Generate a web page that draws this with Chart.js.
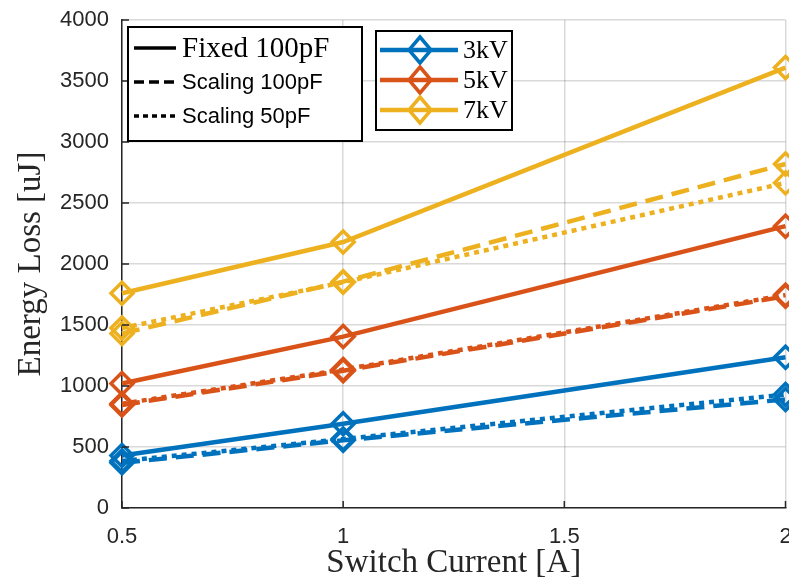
<!DOCTYPE html>
<html>
<head>
<meta charset="utf-8">
<script src="https://cdn.jsdelivr.net/npm/chart.js@4"></script>
<style>
  html, body { margin: 0; padding: 0; background: #fff; overflow: hidden; }
  #wrap { position: relative; width: 800px; height: 583px; }
</style>
</head>
<body>
<div id="wrap"><canvas id="chart"></canvas></div>
<script>
// switch current [A]
const currents = [0.5, 1, 2];
const xTicks = [0.5, 1, 1.5, 2];
const yTicks = [0, 500, 1000, 1500, 2000, 2500, 3000, 3500, 4000];

// energy loss [uJ] per voltage, per capacitor setup
const fixed3kV  = [430, 690, 1235];
const fixed5kV  = [1020, 1405, 2310];
const fixed7kV  = [1760, 2180, 3610];
const scale100_3kV = [370, 555, 890];
const scale100_5kV = [845, 1125, 1735];
const scale100_7kV = [1430, 1855, 2820];
const scale50_3kV  = [385, 565, 930];
const scale50_5kV  = [855, 1135, 1745];
const scale50_7kV  = [1475, 1850, 2665];

const voltLabels = ['3kV', '5kV', '7kV'];
const colors = ['#0072BD', '#D95319', '#EDB120'];
const styleLabels = ['Fixed 100pF', 'Scaling 100pF', 'Scaling 50pF'];

const DASH = [18, 9];
const DOT = [5, 5];

function series(label, vals, color, dash) {
  return {
    label: label,
    data: currents.map((x, i) => ({ x: x, y: vals[i] })),
    borderColor: color,
    backgroundColor: color,
    borderWidth: 4.5,
    borderDash: dash,
    pointStyle: 'rectRot',
    pointRadius: 11,
    pointBorderWidth: 3.5,
    pointBackgroundColor: 'rgba(255,255,255,0)',
    pointBorderColor: color,
    tension: 0,
    clip: false
  };
}

const datasets = [
  series('3kV Scaling 100pF', scale100_3kV, colors[0], DASH),
  series('3kV Scaling 50pF', scale50_3kV, colors[0], DOT),
  series('5kV Scaling 100pF', scale100_5kV, colors[1], DASH),
  series('5kV Scaling 50pF', scale50_5kV, colors[1], DOT),
  series('7kV Scaling 100pF', scale100_7kV, colors[2], DASH),
  series('7kV Scaling 50pF', scale50_7kV, colors[2], DOT),
  series('3kV Fixed 100pF', fixed3kV, colors[0], []),
  series('5kV Fixed 100pF', fixed5kV, colors[1], []),
  series('7kV Fixed 100pF', fixed7kV, colors[2], [])
];

// MATLAB-style inward ticks
const inwardTicks = {
  id: 'inwardTicks',
  afterDatasetsDraw(chart) {
    const ctx = chart.ctx, a = chart.chartArea;
    const xs = chart.scales.x, ys = chart.scales.y;
    ctx.save();
    ctx.strokeStyle = '#262626';
    ctx.lineWidth = 1.5;
    ctx.beginPath();
    xs.ticks.forEach(t => {
      const px = xs.getPixelForValue(t.value);
      ctx.moveTo(px, a.bottom); ctx.lineTo(px, a.bottom - 7);
    });
    ys.ticks.forEach(t => {
      const py = ys.getPixelForValue(t.value);
      ctx.moveTo(a.left, py); ctx.lineTo(a.left + 7, py);
    });
    ctx.stroke();
    ctx.restore();
  }
};

function diamond(ctx, x, y) {
  ctx.beginPath();
  ctx.moveTo(x, y - 13);
  ctx.lineTo(x + 11, y);
  ctx.lineTo(x, y + 13);
  ctx.lineTo(x - 11, y);
  ctx.closePath();
  ctx.stroke();
}

// the two legend boxes
const legends = {
  id: 'legends',
  afterDraw(chart) {
    const ctx = chart.ctx;
    ctx.save();

    // line style legend
    ctx.fillStyle = '#fff';
    ctx.fillRect(128, 27, 234, 114);
    ctx.strokeStyle = '#000';
    ctx.lineWidth = 2;
    ctx.strokeRect(128, 27, 234, 114);
    const dashes = [[], [10, 5], [5, 4]];
    const rowsA = [48, 82, 116];
    styleLabels.forEach((lab, i) => {
      ctx.setLineDash(dashes[i]);
      ctx.lineWidth = 3.5;
      ctx.beginPath();
      ctx.moveTo(134, rowsA[i]);
      ctx.lineTo(176, rowsA[i]);
      ctx.stroke();
      ctx.setLineDash([]);
      ctx.fillStyle = '#000';
      ctx.textBaseline = 'middle';
      ctx.font = i === 0 ? '29px "Liberation Serif"' : '22px "Liberation Sans"';
      ctx.fillText(lab, 182, rowsA[i] + 1);
    });

    // voltage legend
    ctx.fillStyle = '#fff';
    ctx.fillRect(376, 31, 136, 99);
    ctx.strokeStyle = '#000';
    ctx.lineWidth = 2;
    ctx.strokeRect(376, 31, 136, 99);
    const rowsB = [50, 80, 110];
    voltLabels.forEach((lab, i) => {
      const y = rowsB[i];
      ctx.strokeStyle = colors[i];
      ctx.lineWidth = 4.5;
      ctx.beginPath();
      ctx.moveTo(380, y);
      ctx.lineTo(458, y);
      ctx.stroke();
      ctx.lineWidth = 3.5;
      diamond(ctx, 420, y);
      ctx.fillStyle = '#000';
      ctx.textBaseline = 'middle';
      ctx.font = '26px "Liberation Serif"';
      ctx.fillText(lab, 463, y + 1);
    });
    ctx.restore();
  }
};

new Chart(document.getElementById('chart'), {
  type: 'scatter',
  data: { datasets: datasets },
  plugins: [inwardTicks, legends],
  options: {
    responsive: true,
    maintainAspectRatio: false,
    animation: false,
    showLine: true,
    layout: { padding: { top: 20, right: 14, bottom: 0, left: 0 } },
    plugins: { legend: { display: false }, tooltip: { enabled: false } },
    scales: {
      x: {
        type: 'linear',
        min: 0.5,
        max: 2,
        afterBuildTicks: s => { s.ticks = xTicks.map(v => ({ value: v })); },
        ticks: {
          font: { family: 'Liberation Sans', size: 22 },
          color: '#262626',
          padding: 16,
          maxRotation: 0,
          callback: v => String(v)
        },
        grid: { color: 'rgba(0,0,0,0.15)', lineWidth: 1.5, drawTicks: false },
        border: { color: '#262626', width: 1.5 },
        title: {
          display: true,
          text: 'Switch Current [A]',
          font: { family: 'Liberation Serif', size: 33 },
          color: '#262626',
          padding: { top: 0, bottom: 0 }
        },
        afterFit: s => { s.height = 75; s.paddingLeft = 0; s.paddingRight = 0; }
      },
      y: {
        min: 0,
        max: 4000,
        afterBuildTicks: s => { s.ticks = yTicks.map(v => ({ value: v })); },
        ticks: {
          font: { family: 'Liberation Sans', size: 22 },
          color: '#262626',
          padding: 13,
          callback: v => String(v)
        },
        grid: { color: 'rgba(0,0,0,0.15)', lineWidth: 1.5, drawTicks: false },
        border: { color: '#262626', width: 1.5 },
        title: {
          display: true,
          text: 'Energy Loss [uJ]',
          font: { family: 'Liberation Serif', size: 33 },
          color: '#262626',
          padding: { top: 12, bottom: 0 }
        },
        afterFit: s => { s.width = 122; s.paddingTop = 0; s.paddingBottom = 0; }
      }
    }
  }
});
</script>
</body>
</html>
